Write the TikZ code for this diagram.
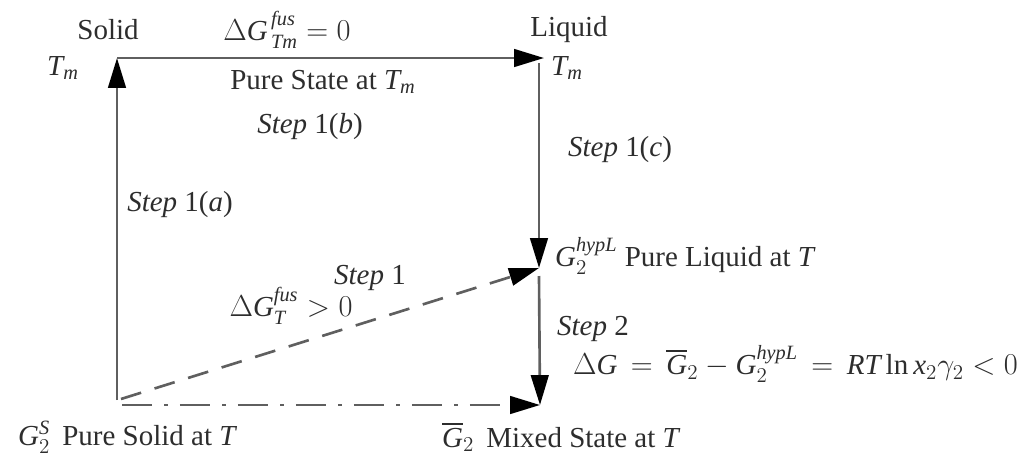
\documentclass[tikz,border=0pt]{standalone}
\usepackage{amsmath}
\usepackage{fontspec}
\setmainfont{Liberation Serif}
\usepackage{tikz}
\usetikzlibrary{arrows.meta,positioning}
\definecolor{lineg}{RGB}{95,95,95}
\definecolor{textg}{RGB}{45,45,45}
\newcommand{\tv}[1]{\textit{#1}}

\begin{document}
\begin{tikzpicture}[
x=0.02cm,
y=-0.02cm,
lab/.style={
font=\fontsize{16.5}{20}\selectfont,
color=textg,
inner sep=1pt
},
edge/.style={
-{Triangle[length=17pt,width=10pt,color=black]},
line width=1.5pt,
color=lineg
},
dashedge/.style={
edge,
dash pattern=on 12pt off 8pt
},
dotedge/.style={
edge,
dash pattern=on 17pt off 7pt on 2pt off 7pt
}
]

\useasboundingbox (0,0) rectangle (1021,457);

% corners of the cycle
\coordinate (sTm) at (117,58);
\coordinate (lTm) at (544,58);
\coordinate (lTop) at (539,63);
\coordinate (lqT) at (539,268);
\coordinate (lqB) at (539,276);
\coordinate (sT) at (117,400);
\coordinate (sTd) at (121,399);
\coordinate (sTb) at (122,405);
\coordinate (mxT) at (540,405);

\node[lab] (solid) at (108,30) {Solid};
\node[lab] (tmL) at (63,68) {$\tv{T}_{\tv{m}}$};
\node[lab] (dgfus) at (287,30) {$\Delta\tv{G}^{\,\tv{fus}}_{\,\tv{Tm}} = 0$};
\node[lab] (pure) at (323,82) {Pure State at $\tv{T}_{\tv{m}}$};
\node[lab] (sOneB) at (310,127) {\tv{Step} 1(\tv{b})};

\node[lab] (liquid) at (569,30) {Liquid};
\node[lab] (tmR) at (567,68) {$\tv{T}_{\tv{m}}$};
\node[lab] (sOneC) at (620,150) {\tv{Step} 1(\tv{c})};
\node[lab] (sOneA) at (180,205) {\tv{Step} 1(\tv{a})};

\node[lab,anchor=west] (hypl) at (553,256)
{$\tv{G}_2^{\tv{hypL}}$ Pure Liquid at \tv{T}};

\node[lab] (sOne) at (370,278) {\tv{Step} 1};
\node[lab] (dgT) at (291,306) {$\Delta\tv{G}^{\tv{fus}}_{\tv{T}} > 0$};

\node[lab] (sTwo) at (593,329) {\tv{Step} 2};
\node[lab,anchor=west] (dgeq) at (571,364)
{$\Delta\tv{G} \,=\, \overline{\tv{G}}_2 - \tv{G}_2^{\tv{hypL}} \,=\, \tv{RT}\,\mathrm{ln}\,\tv{x}_2\gamma_2 < 0$};

\node[lab,anchor=west] (pSolid) at (16,437) {$\tv{G}_2^{\tv{S}}$\, Pure Solid at \tv{T}};
\node[lab,anchor=west] (mixed) at (440,437) {$\overline{\tv{G}}_2$\, Mixed State at \tv{T}};

\draw[edge] (sT) -- (sTm);
\draw[edge] (sTm) -- (lTm);
\draw[edge] (lTop) -- (lqT);
\draw[edge] (lqB) -- (mxT);
\draw[dashedge] (sTd) -- (lqT);
\draw[dotedge] (sTb) -- (mxT);

\end{tikzpicture}
\end{document}
